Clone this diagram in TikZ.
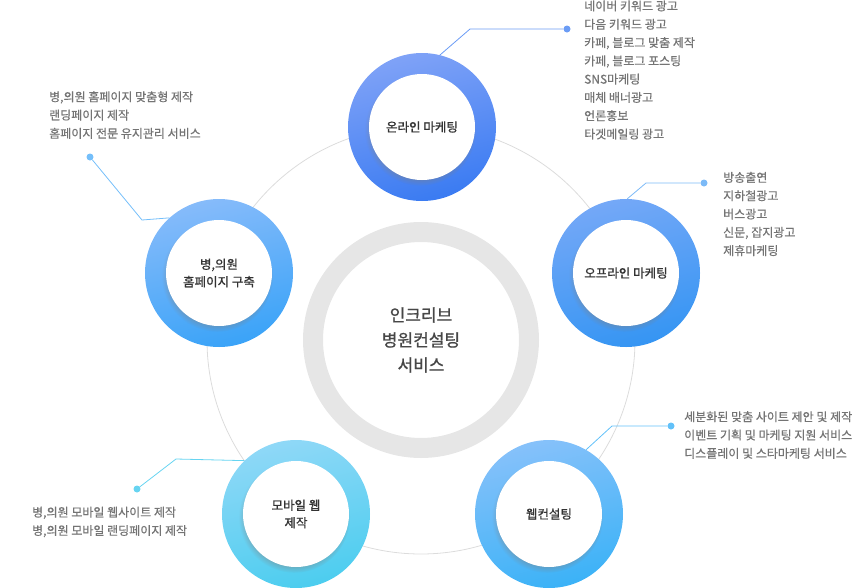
\documentclass[tikz,border=0pt]{standalone}
\usepackage{fontspec}
\setmainfont{Noto Sans CJK KR}
\newfontfamily\labelfont[FakeBold=1]{Noto Sans CJK KR}
\newfontfamily\listfont[FakeBold=0.5]{Noto Sans CJK KR}
\usepackage{xcolor}
\usetikzlibrary{positioning,shadows}

\definecolor{listgray}{HTML}{747474}
\definecolor{labeldark}{HTML}{333333}
\definecolor{hubgray}{HTML}{E6E6E6}
\definecolor{orbitgray}{HTML}{DCDCDC}
\definecolor{onlA}{HTML}{7FA2F7}
\definecolor{onlB}{HTML}{3A7BF2}
\definecolor{offA}{HTML}{74A8F7}
\definecolor{offB}{HTML}{3595F3}
\definecolor{webA}{HTML}{86C1FA}
\definecolor{webB}{HTML}{3BB2F7}
\definecolor{mobA}{HTML}{8FD8F7}
\definecolor{mobB}{HTML}{4CCDEF}
\definecolor{homeA}{HTML}{86BBFA}
\definecolor{homeB}{HTML}{3AA3F8}

\tikzset{
  ring/.style 2 args={circle, inner sep=0pt, minimum size=148pt,
    top color=#1, bottom color=#2, shading angle=15},
  core/.style={circle, fill=white, inner sep=0pt, minimum size=106pt,
    align=center, text=labeldark, font=\labelfont\fontsize{12.5}{17.5}\selectfont,
    circular drop shadow={shadow xshift=-1.5pt, shadow yshift=-3pt,
      shadow scale=1.05, opacity=0.5}},
  tip/.style={circle, fill=#1, inner sep=0pt, minimum size=7pt},
  leader/.style={draw=#1, line width=0.8pt},
  items/.style={anchor=west, inner sep=0pt, align=left, text=listgray,
    font=\listfont\fontsize{12}{18.3}\selectfont},
}

\begin{document}
\begin{tikzpicture}[x=1pt, y=-1pt]
  \useasboundingbox (0,0) rectangle (868,587);

  % centre
  \node[circle, draw=hubgray, line width=20pt, minimum size=216pt,
    align=center, text=labeldark!90, font=\labelfont\fontsize{17}{25}\selectfont]
    (hub) at (421,340) {인크리브\\병원컨설팅\\서비스};
  \draw[orbitgray, line width=0.8pt] (hub.center) circle (214);

  % five services
  \node[ring={onlA}{onlB}] (onl) at (422,127) {};
  \node[core] (onlc) at (onl) {온라인 마케팅};
  \node[ring={offA}{offB}] (off) at (626,273) {};
  \node[core] (offc) at (off) {오프라인 마케팅};
  \node[ring={webA}{webB}] (web) at (549,514) {};
  \node[core] (webc) at (web) {웹컨설팅};
  \node[ring={mobA}{mobB}] (mob) at (296,514) {};
  \node[core] (mobc) at (mob) {모바일 웹\\제작};
  \node[ring={homeA}{homeB}] (home) at (219,273) {};
  \node[core] (homec) at (home) {병,의원\\홈페이지 구축};

  % leaders
  \coordinate (onlbend) at (470,29);
  \node[tip=onlB!75] (onldot) at (567,29) {};
  \draw[leader=onlB!75] (onl.76) -- (onlbend) -- (onldot);

  \coordinate (offbend) at (646,183);
  \node[tip=offB!65] (offdot) at (704,183) {};
  \draw[leader=offB!65] (off.89) -- (offbend) -- (offdot);

  \coordinate (webbend) at (612,426);
  \node[tip=webB!80] (webdot) at (671,426) {};
  \draw[leader=webB!80] (web.60) -- (webbend) -- (webdot);

  \coordinate (mobbend) at (176,459);
  \node[tip=mobB!85] (mobdot) at (137,489) {};
  \draw[leader=mobB!85] (mob.134) -- (mobbend) -- (mobdot);

  \coordinate (homebend) at (142,220);
  \node[tip=homeB!70] (homedot) at (90,157) {};
  \draw[leader=homeB!70] (home.132) -- (homebend) -- (homedot);

  % lists
  \node[items] (onlitems) at (584,70)
    {네이버 키워드 광고\\다음 키워드 광고\\카페, 블로그 맞춤 제작\\카페, 블로그 포스팅\\SNS마케팅\\매체 배너광고\\언론홍보\\타겟메일링 광고};
  \node[items] (offitems) at (723,214)
    {방송출연\\지하철광고\\버스광고\\신문, 잡지광고\\제휴마케팅};
  \node[items] (webitems) at (684,435)
    {세분화된 맞춤 사이트 제안 및 제작\\이벤트 기획 및 마케팅 지원 서비스\\디스플레이 및 스타마케팅 서비스};
  \node[items] (mobitems) at (32,522)
    {병,의원 모바일 웹사이트 제작\\병,의원 모바일 랜딩페이지 제작};
  \node[items] (homeitems) at (49,115)
    {병,의원 홈페이지 맞춤형 제작\\랜딩페이지 제작\\홈페이지 전문 유지관리 서비스};
\end{tikzpicture}
\end{document}
